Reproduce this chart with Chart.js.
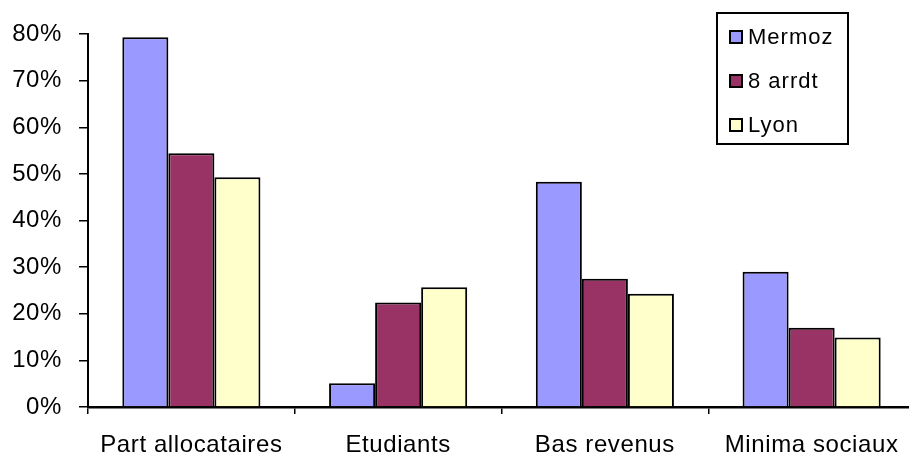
<!DOCTYPE html>
<html>
<head>
<meta charset="utf-8">
<script src="https://cdn.jsdelivr.net/npm/chart.js@4.4.1/dist/chart.umd.min.js"></script>
<style>
html,body{margin:0;padding:0;background:#fff;overflow:hidden;}
#c{display:block;}
</style>
</head>
<body>
<canvas id="c" width="915" height="457" style="width:915px;height:457px"></canvas>
<script>
const categories = ["Part allocataires", "Etudiants", "Bas revenus", "Minima sociaux"];
const seriesNames = ["Mermoz", "8 arrdt", "Lyon"];
const mermoz = [79.3, 5.1, 48.3, 29.0];
const arrdt8 = [54.4, 22.4, 27.5, 17.0];
const lyon = [49.3, 25.7, 24.3, 14.9];
const yTicks = [0, 10, 20, 30, 40, 50, 60, 70, 80];
const colors = ["#9999FF", "#993366", "#FFFFCC"];

const FONT = "'Liberation Sans', Arial, sans-serif";

const spacingPlugin = {
  id: 'spacing',
  beforeDraw(chart) {
    try { chart.ctx.letterSpacing = '0.6px'; } catch (e) {}
  }
};

const legendPlugin = {
  id: 'boxLegend',
  afterDraw(chart) {
    const ctx = chart.ctx;
    ctx.save();
    const bx = 717, by = 13, bw = 131, bh = 131;
    ctx.lineWidth = 2;
    ctx.strokeStyle = '#000';
    ctx.fillStyle = '#fff';
    ctx.fillRect(bx, by, bw, bh);
    ctx.strokeRect(bx, by, bw, bh);
    ctx.font = "22px " + FONT;
    try { ctx.letterSpacing = '1px'; } catch (e) {}
    ctx.textBaseline = 'middle';
    chart.data.datasets.forEach((ds, i) => {
      const cy = 37 + i * 44;
      ctx.fillStyle = ds.backgroundColor;
      ctx.fillRect(730, cy - 6, 12, 12);
      ctx.lineWidth = 2;
      ctx.strokeStyle = '#000';
      ctx.strokeRect(730, cy - 6, 12, 12);
      ctx.fillStyle = '#000';
      ctx.fillText(ds.label, 748, cy + 1);
    });
    ctx.restore();
  }
};

new Chart(document.getElementById('c'), {
  type: 'bar',
  data: {
    labels: categories,
    datasets: [
      { label: seriesNames[0], data: mermoz, backgroundColor: colors[0] },
      { label: seriesNames[1], data: arrdt8, backgroundColor: colors[1] },
      { label: seriesNames[2], data: lyon, backgroundColor: colors[2] }
    ].map(d => Object.assign(d, { borderColor: '#000', borderWidth: 2, borderSkipped: 'bottom' }))
  },
  options: {
    responsive: false,
    animation: false,
    devicePixelRatio: 1,
    layout: { padding: { top: 34, left: 0, right: 0, bottom: 0 } },
    datasets: { bar: { categoryPercentage: 0.668, barPercentage: 1.0 } },
    plugins: { legend: { display: false }, tooltip: { enabled: false } },
    scales: {
      x: {
        offset: true,
        grid: { offset: true, drawOnChartArea: false, drawTicks: true, tickLength: 7, color: '#000', lineWidth: 1.5 },
        border: { color: '#000', width: 2.5 },
        ticks: { color: '#000', font: { family: FONT, size: 24 }, padding: 17, maxRotation: 0, autoSkip: false },
        afterFit(s) { s.height = 50; }
      },
      y: {
        min: 0, max: 80,
        afterBuildTicks(s) { s.ticks = yTicks.map(v => ({ value: v })); },
        grid: { drawOnChartArea: false, drawTicks: true, tickLength: 9, color: '#000', lineWidth: 1.5 },
        border: { color: '#000', width: 2 },
        ticks: { color: '#000', font: { family: FONT, size: 24 }, padding: 17, callback: v => v + '%' },
        afterFit(s) { s.width = 88; }
      }
    }
  },
  plugins: [spacingPlugin, legendPlugin]
});
</script>
</body>
</html>
